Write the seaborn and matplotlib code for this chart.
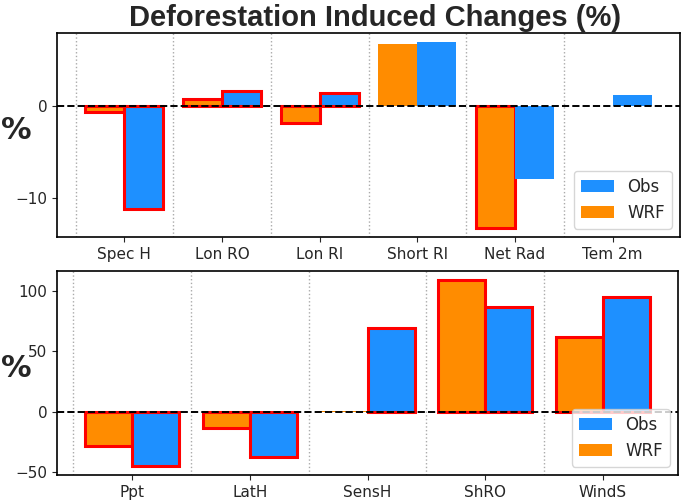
import pandas as pd
import seaborn as sns
import matplotlib.pyplot as plt

# top panel
top_vars = ['Spec H', 'Lon RO', 'Lon RI', 'Short RI', 'Net Rad', 'Tem 2m']
top_wrf = [-0.65, 0.75, -1.8, 6.7, -13.2, 0.0]
top_obs = [-11.2, 1.65, 1.4, 6.9, -7.9, 1.15]
top_wrf_sig = [True, True, True, False, True, False]
top_obs_sig = [True, True, True, False, False, False]

# bottom panel
bot_vars = ['Ppt', 'LatH', 'SensH', 'ShRO', 'WindS']
bot_wrf = [-29, -14, 0.8, 109, 62]
bot_obs = [-45, -38, 69, 87, 95]
bot_wrf_sig = [True, True, False, True, True]
bot_obs_sig = [True, True, True, True, True]

sns.set_style('ticks')
plt.rcParams['font.family'] = ['DejaVu Sans']
colors = {'WRF': 'darkorange', 'Obs': 'dodgerblue'}


def panel(ax, names, wrf, obs, wrf_sig, obs_sig):
    n = len(names)
    df = pd.DataFrame({'var': names * 2,
                       'model': ['WRF'] * n + ['Obs'] * n,
                       'value': wrf + obs})
    sns.barplot(data=df, x='var', y='value', hue='model', hue_order=['WRF', 'Obs'],
                palette=colors, saturation=1, linewidth=0, errorbar=None, ax=ax)
    for cont, sig in zip(ax.containers, [wrf_sig, obs_sig]):
        for bar, s in zip(cont, sig):
            if s:
                bar.set_edgecolor('red')
                bar.set_linewidth(2.2)
    ax.axhline(0, color='k', ls='--', lw=1.4, zorder=5)
    for i in range(n):
        ax.axvline(i - 0.5, color='#aaaaaa', ls=':', lw=1, zorder=0)
    span = n - 1 + 0.8
    ax.set_xlim(-0.4 - 0.05 * span, n - 1 + 0.4 + 0.05 * span)
    ax.set_xlabel('')
    ax.set_ylabel('%', rotation=0, fontsize=22, fontweight='bold', va='center', ha='center')
    ax.yaxis.set_label_coords(-0.066, 0.52)
    ax.tick_params(labelsize=11)
    for sp in ax.spines.values():
        sp.set_visible(True)
        sp.set_color('black')
        sp.set_linewidth(1.2)
    h, l = ax.get_legend_handles_labels()
    ax.legend(h[::-1], l[::-1], loc='lower right', fontsize=12)


fig = plt.figure(figsize=(6.85, 5.03), dpi=100)
ax1 = fig.add_axes([57 / 685, 1 - 237 / 503, 623 / 685, 204 / 503])
ax2 = fig.add_axes([57 / 685, 1 - 475 / 503, 621 / 685, 204 / 503])

panel(ax1, top_vars, top_wrf, top_obs, top_wrf_sig, top_obs_sig)
panel(ax2, bot_vars, bot_wrf, bot_obs, bot_wrf_sig, bot_obs_sig)
ax1.set_yticks([-10, 0])
ax2.set_yticks([-50, 0, 50, 100])

fig.text(375 / 685, 1 - 18 / 503, 'Deforestation Induced Changes (%)', ha='center', va='center',
         fontsize=21, fontweight='bold', family=['Liberation Sans'])

fig.savefig('out.png', dpi=100)
